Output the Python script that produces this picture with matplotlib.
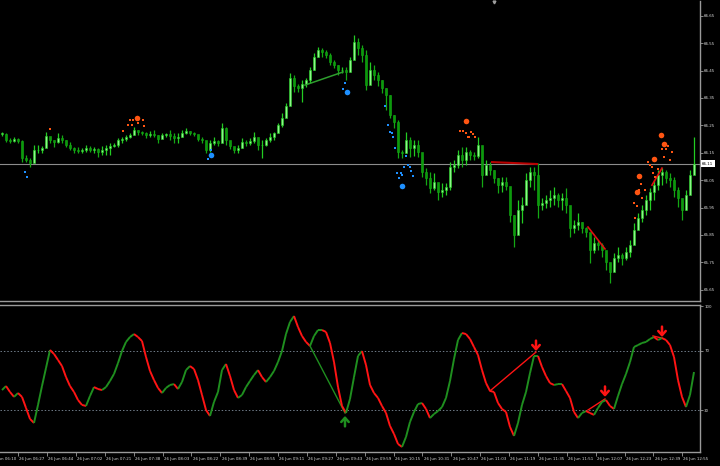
import numpy as np
import matplotlib
matplotlib.use("Agg")
import matplotlib.pyplot as plt
from matplotlib.collections import LineCollection
from matplotlib import transforms

# ---------------- data ----------------
highs = [66.226, 66.222, 66.204, 66.208, 66.204, 66.197, 66.142, 66.131, 66.178, 66.178,
         66.175, 66.226, 66.208, 66.197, 66.222, 66.215, 66.197, 66.189, 66.171, 66.171,
         66.167, 66.178, 66.175, 66.171, 66.167, 66.175, 66.178, 66.186, 66.186, 66.204,
         66.208, 66.215, 66.222, 66.244, 66.233, 66.229, 66.226, 66.229, 66.233, 66.215,
         66.222, 66.222, 66.233, 66.222, 66.222, 66.233, 66.240, 66.229, 66.226, 66.215,
         66.208, 66.186, 66.197, 66.208, 66.197, 66.259, 66.244, 66.189, 66.171, 66.178,
         66.204, 66.197, 66.204, 66.226, 66.204, 66.197, 66.204, 66.222, 66.226, 66.259,
         66.295, 66.332, 66.441, 66.434, 66.401, 66.416, 66.423, 66.463, 66.514, 66.536,
         66.532, 66.525, 66.514, 66.489, 66.470, 66.463, 66.463, 66.499, 66.580, 66.569,
         66.543, 66.525, 66.481, 66.470, 66.445, 66.416, 66.387, 66.361, 66.288, 66.270,
         66.160, 66.226, 66.208, 66.197, 66.197, 66.142, 66.094, 66.080, 66.076, 66.040,
         66.040, 66.040, 66.116, 66.124, 66.160, 66.171, 66.171, 66.160, 66.153, 66.208,
         66.160, 66.124, 66.116, 66.087, 66.058, 66.062, 66.062, 66.014, 65.923, 65.978,
         65.989, 66.076, 66.098, 66.098, 66.113, 65.985, 65.996, 66.014, 66.025, 66.003,
         66.003, 66.022, 65.941, 65.905, 65.930, 65.898, 65.879, 65.839, 65.843, 65.832,
         65.821, 65.784, 65.748, 65.784, 65.806, 65.784, 65.806, 65.832, 65.894, 65.930,
         65.959, 65.996, 66.022, 66.051, 66.087, 66.094, 66.087, 66.076, 66.062, 66.025,
         65.978, 66.014, 66.087, 66.208]

lows = [66.211, 66.189, 66.186, 66.189, 66.186, 66.116, 66.116, 66.098, 66.116, 66.149,
        66.149, 66.178, 66.186, 66.171, 66.186, 66.186, 66.171, 66.160, 66.149, 66.149,
        66.149, 66.153, 66.153, 66.149, 66.135, 66.142, 66.142, 66.142, 66.171, 66.171,
        66.186, 66.193, 66.204, 66.215, 66.215, 66.215, 66.204, 66.208, 66.208, 66.186,
        66.208, 66.208, 66.197, 66.186, 66.186, 66.208, 66.219, 66.215, 66.211, 66.193,
        66.186, 66.149, 66.153, 66.178, 66.175, 66.189, 66.178, 66.164, 66.149, 66.149,
        66.167, 66.175, 66.178, 66.186, 66.160, 66.131, 66.175, 66.189, 66.197, 66.229,
        66.244, 66.284, 66.343, 66.372, 66.372, 66.336, 66.390, 66.405, 66.452, 66.499,
        66.499, 66.496, 66.470, 66.459, 66.434, 66.441, 66.416, 66.445, 66.507, 66.507,
        66.481, 66.379, 66.408, 66.416, 66.394, 66.369, 66.306, 66.277, 66.240, 66.131,
        66.131, 66.149, 66.135, 66.138, 66.135, 66.062, 66.032, 66.003, 66.014, 65.978,
        65.989, 65.996, 66.014, 66.080, 66.094, 66.098, 66.105, 66.124, 66.124, 66.131,
        66.025, 66.076, 66.069, 66.040, 66.003, 66.007, 66.014, 65.898, 65.806, 65.879,
        65.894, 65.978, 66.025, 66.014, 65.912, 65.941, 65.949, 65.952, 65.959, 65.952,
        65.941, 65.930, 65.843, 65.858, 65.868, 65.858, 65.843, 65.748, 65.784, 65.795,
        65.770, 65.722, 65.675, 65.733, 65.751, 65.740, 65.759, 65.770, 65.821, 65.886,
        65.898, 65.923, 65.941, 65.978, 66.014, 66.032, 66.040, 66.025, 65.989, 65.952,
        65.905, 65.941, 66.022, 66.098]

closes = [66.219, 66.197, 66.193, 66.200, 66.193, 66.131, 66.124, 66.113, 66.160, 66.160,
          66.167, 66.211, 66.197, 66.189, 66.204, 66.197, 66.178, 66.167, 66.160, 66.156,
          66.160, 66.167, 66.160, 66.164, 66.153, 66.160, 66.167, 66.175, 66.178, 66.197,
          66.200, 66.208, 66.215, 66.233, 66.226, 66.222, 66.215, 66.219, 66.215, 66.200,
          66.215, 66.219, 66.211, 66.204, 66.208, 66.222, 66.229, 66.222, 66.219, 66.200,
          66.197, 66.160, 66.186, 66.193, 66.186, 66.240, 66.197, 66.175, 66.160, 66.167,
          66.189, 66.186, 66.193, 66.208, 66.178, 66.178, 66.197, 66.208, 66.222, 66.251,
          66.277, 66.321, 66.423, 66.394, 66.387, 66.401, 66.416, 66.452, 66.499, 66.525,
          66.518, 66.507, 66.481, 66.470, 66.452, 66.452, 66.445, 66.489, 66.554, 66.532,
          66.507, 66.397, 66.452, 66.434, 66.416, 66.387, 66.361, 66.288, 66.262, 66.153,
          66.149, 66.197, 66.167, 66.178, 66.153, 66.080, 66.058, 66.022, 66.043, 66.007,
          66.014, 66.025, 66.098, 66.105, 66.142, 66.124, 66.153, 66.142, 66.138, 66.178,
          66.069, 66.105, 66.087, 66.058, 66.032, 66.043, 66.029, 65.923, 65.850, 65.941,
          65.959, 66.051, 66.080, 66.069, 65.959, 65.967, 65.978, 65.985, 65.996, 65.978,
          65.985, 65.959, 65.876, 65.886, 65.898, 65.876, 65.861, 65.795, 65.821, 65.813,
          65.795, 65.751, 65.715, 65.766, 65.777, 65.766, 65.788, 65.813, 65.868, 65.912,
          65.941, 65.978, 66.007, 66.032, 66.069, 66.080, 66.058, 66.051, 66.014, 65.985,
          65.941, 65.996, 66.069, 66.110]

osc = [43.6, 46.3, 42.3, 39.0, 41.6, 39.0, 31.6, 24.2, 21.5, 33.6,
       46.3, 58.4, 70.5, 67.8, 63.8, 59.7, 52.3, 46.3, 42.3, 36.9,
       33.6, 32.9, 39.6, 45.6, 44.3, 43.6, 45.6, 49.7, 54.4, 61.7,
       69.8, 75.9, 79.2, 81.2, 79.2, 76.5, 65.8, 56.4, 50.3, 45.0,
       41.6, 45.0, 47.0, 47.6, 44.3, 49.0, 57.0, 59.7, 57.7, 50.3,
       40.3, 30.2, 26.2, 35.6, 42.3, 57.0, 61.1, 53.0, 43.6, 38.3,
       40.3, 45.6, 49.7, 53.7, 57.0, 52.3, 49.0, 52.3, 56.4, 62.4,
       69.8, 81.2, 89.3, 93.3, 85.9, 79.9, 75.9, 73.2, 79.9, 83.9,
       83.9, 82.6, 75.2, 62.4, 45.6, 32.9, 28.2, 37.6, 52.3, 66.5,
       69.8, 60.4, 47.0, 41.6, 38.3, 32.9, 28.2, 19.5, 14.1, 7.4,
       5.4, 12.1, 22.2, 28.9, 34.2, 34.9, 30.9, 24.8, 27.5, 29.5,
       32.2, 38.3, 49.7, 64.4, 77.2, 81.9, 81.2, 77.9, 72.5, 67.1,
       57.0, 48.3, 43.0, 42.3, 34.9, 30.9, 28.9, 18.8, 12.8, 21.5,
       33.6, 42.3, 55.0, 66.5, 66.5, 59.1, 53.0, 48.3, 47.0, 47.6,
       47.6, 43.0, 38.3, 28.9, 24.8, 28.2, 29.5, 28.2, 26.9, 31.6,
       35.6, 36.9, 32.9, 30.9, 39.6, 47.6, 54.4, 62.4, 72.5, 73.8,
       75.2, 75.9, 77.9, 79.2, 77.2, 78.5, 77.2, 73.8, 65.8, 50.3,
       39.0, 32.2, 40.3, 55.7]

time_labels = ["26 Jun 06:10", "26 Jun 06:27", "26 Jun 06:44", "26 Jun 07:02", "26 Jun 07:21",
               "26 Jun 07:38", "26 Jun 08:03", "26 Jun 08:22", "26 Jun 08:39", "26 Jun 08:55",
               "26 Jun 09:11", "26 Jun 09:27", "26 Jun 09:43", "26 Jun 09:59", "26 Jun 10:15",
               "26 Jun 10:31", "26 Jun 10:47", "26 Jun 11:03", "26 Jun 11:19", "26 Jun 11:35",
               "26 Jun 11:51", "26 Jun 12:07", "26 Jun 12:23", "26 Jun 12:39", "26 Jun 12:55"]

price_ticks = [65.65, 65.75, 65.85, 65.95, 66.05, 66.15, 66.25, 66.35, 66.45, 66.55, 66.65]
osc_ticks = [30, 70, 100]
osc_levels = [30, 70]
bid = 66.11

# signal dots: bar position, price, big?
sell_x = [12, 30.25, 31.5, 32.5, 32, 32.75, 33.75, 34, 35.25, 35.5,
          116, 114.5, 115.25, 116, 117.25, 117.75, 116.5, 116.75, 118.25,
          164.75, 165.5, 166.5, 165, 166, 167.5, 165.5, 167, 161.5, 162, 163, 162.5,
          164, 162.75, 163.25, 159.25, 159.75, 159.25, 160.75, 158.75, 160, 158, 158.75, 158.25]
sell_p = [66.237, 66.229, 66.251, 66.251, 66.269, 66.269, 66.277, 66.258, 66.269, 66.248,
          66.266, 66.229, 66.229, 66.222, 66.226, 66.218, 66.207, 66.207, 66.207,
          66.215, 66.182, 66.175, 66.164, 66.164, 66.153, 66.134, 66.123, 66.116, 66.105, 66.127, 66.098,
          66.091, 66.076, 66.061, 66.065, 66.036, 66.014, 66.014, 66.007, 65.985, 65.966, 65.955, 65.912]
sell_big = [0, 0, 0, 0, 0, 0, 1, 0, 0, 0,
            1, 0, 0, 0, 0, 0, 0, 0, 0,
            1, 1, 0, 0, 0, 0, 0, 0, 0, 0, 1, 0,
            0, 0, 0, 1, 0, 0, 0, 1, 0, 0, 0, 0]

buy_x = [5.75, 6.25, 52.25, 52.25, 51.5, 85.75, 85.25, 86.25,
         95.75, 96.5, 97, 97.5, 97.75, 98.25, 101, 101.5, 102, 100.5, 102.25,
         98.75, 99.75, 100, 99.25, 102.75, 100]
buy_p = [66.080, 66.061, 66.160, 66.142, 66.127, 66.404, 66.382, 66.372,
         66.320, 66.251, 66.226, 66.222, 66.207, 66.167, 66.138, 66.105, 66.098, 66.098, 66.083,
         66.076, 66.076, 66.069, 66.058, 66.065, 66.029]
buy_big = [0, 0, 0, 1, 0, 0, 0, 1,
           0, 0, 0, 0, 0, 0, 0, 0, 0, 0, 0,
           0, 0, 0, 0, 0, 1]

# trend lines (bar position pairs, value pairs)
price_green_x = [75.75, 85.25]
price_green_y = [66.397, 66.445]
price_red_x = [[122.5, 133.75], [146.5, 150.75], [162.5, 165.0]]
price_red_y = [[66.116, 66.109], [65.879, 65.799], [66.032, 66.094]]

osc_green_x = [77, 85.75]
osc_green_y = [73.2, 28.2]
osc_red_x = [[122, 133.5], [146.5, 150.75], [162.75, 165.0]]
osc_red_y = [[43.0, 69.1], [30.2, 37.6], [79.9, 78.5]]
arrow_up_x = [85.75]
arrow_up_y = [26.2]
arrow_down_x = [133.5, 150.75, 165.0]
arrow_down_y = [69.8, 39.0, 79.2]

# ---------------- figure ----------------
W, H = 720, 466
fig = plt.figure(figsize=(W / 100, H / 100), dpi=100, facecolor="black")
ax1 = fig.add_axes([0, (H - 301) / H, 700 / W, 300 / H], facecolor="black")
ax2 = fig.add_axes([0, (H - 452) / H, 700 / W, 147 / H], facecolor="black")

n = len(closes)
x = np.arange(n)
hi = np.array(highs)
lo = np.array(lows)
cl = np.array(closes)
op = np.r_[cl[0], cl[:-1]]
up = cl >= op

grid_col = "#9a9a9a"
txt_col = "#d8d8d8"

bull_fill, bull_edge = "#8ef58a", "#22cc22"
bear_fill, bear_edge = "#0b9a0b", "#14a814"

wick_cols = [bull_edge if u else bear_edge for u in up]
ax1.vlines(x, lo, hi, colors=wick_cols, lw=0.9, zorder=2)
ax1.bar(x[up], np.maximum(cl[up] - op[up], 0.0015), bottom=op[up], width=0.62,
        color=bull_fill, edgecolor=bull_edge, linewidth=0.4, zorder=3)
ax1.bar(x[~up], np.maximum(op[~up] - cl[~up], 0.0015), bottom=cl[~up], width=0.62,
        color=bear_fill, edgecolor=bear_edge, linewidth=0.4, zorder=3)

# bid line
ax1.axhline(bid, color="#8c8c8c", lw=0.8, zorder=1)

# trend lines on price
ax1.plot(price_green_x, price_green_y, color="#2e9e2e", lw=1.1, zorder=4)
for k, (xs, ys) in enumerate(zip(price_red_x, price_red_y)):
    ax1.plot(xs, ys, color="#b80000" if k == 0 else "#e01010", lw=1.5 if k == 0 else 1.2, zorder=4)

# signal dots
sx, sp, sb = np.array(sell_x), np.array(sell_p), np.array(sell_big, bool)
bx, bp, bb = np.array(buy_x), np.array(buy_p), np.array(buy_big, bool)
ax1.scatter(sx[~sb], sp[~sb], s=3.5, color="#ff5512", marker="s", lw=0, zorder=5)
ax1.scatter(sx[sb], sp[sb], s=16, color="#ff5512", lw=0, zorder=5)
ax1.scatter(bx[~bb], bp[~bb], s=3.5, color="#1e90ff", marker="s", lw=0, zorder=5)
ax1.scatter(bx[bb], bp[bb], s=16, color="#1e90ff", lw=0, zorder=5)

ax1.set_xlim(-0.5, n + 0.5)
ax1.set_ylim(65.609, 66.704)
ax1.yaxis.tick_right()
ax1.set_yticks(price_ticks)
ax1.set_yticklabels([f"{v:.2f}" for v in price_ticks])
ax1.tick_params(axis="y", length=2, width=0.6, color=grid_col, labelsize=2.9,
                labelcolor=txt_col, pad=1)
ax1.tick_params(axis="x", bottom=False, labelbottom=False)
for s in ["left", "top"]:
    ax1.spines[s].set_visible(False)
for s in ["right", "bottom"]:
    ax1.spines[s].set_color(grid_col)
    ax1.spines[s].set_linewidth(1.0)

# bid label
tb = transforms.blended_transform_factory(ax1.transAxes, ax1.transData)
ax1.text(1.003, bid, f"{bid:.2f}", transform=tb, fontsize=2.9, color="black",
         ha="left", va="center", clip_on=False,
         bbox=dict(boxstyle="square,pad=0.35", fc="white", ec="white", lw=0))

# chart shift marker at top
ax1.plot([0.706], [0.997], marker="v", color="#a0a0a0", markersize=2,
         transform=ax1.transAxes, clip_on=False)

# ---------------- oscillator ----------------
ov = np.array(osc)
pts = np.column_stack([x, ov])
segs = np.stack([pts[:-1], pts[1:]], axis=1)
cols = ["#1f8f1f" if ov[i + 1] >= ov[i] else "#ff1414" for i in range(n - 1)]
ax2.add_collection(LineCollection(segs, colors=cols, linewidths=1.4, zorder=3))

for lv in osc_levels:
    ax2.axhline(lv, color="#6f7b88", lw=0.7, ls=(0, (1.5, 2.0)), zorder=1)

ax2.plot(osc_green_x, osc_green_y, color="#1f8f1f", lw=1.0, zorder=2)
for xs, ys in zip(osc_red_x, osc_red_y):
    ax2.plot(xs, ys, color="#ff1414", lw=1.0, zorder=2)

for ax_, ay in zip(arrow_up_x, arrow_up_y):
    ax2.annotate("", xy=(ax_, ay), xytext=(ax_, ay - 7),
                 arrowprops=dict(arrowstyle="->,head_length=0.5,head_width=0.45",
                                 color="#1f8f1f", lw=1.8, mutation_scale=6,
                                 shrinkA=0, shrinkB=0))
for ax_, ay in zip(arrow_down_x, arrow_down_y):
    ax2.annotate("", xy=(ax_, ay), xytext=(ax_, ay + 7),
                 arrowprops=dict(arrowstyle="->,head_length=0.5,head_width=0.45",
                                 color="#ff1414", lw=1.8, mutation_scale=6,
                                 shrinkA=0, shrinkB=0))

ax2.set_xlim(-0.5, n + 0.5)
ax2.set_ylim(2.0, 100.7)
ax2.yaxis.tick_right()
ax2.set_yticks(osc_ticks)
ax2.set_yticklabels([str(v) for v in osc_ticks])
ax2.tick_params(axis="y", length=2, width=0.6, color=grid_col, labelsize=2.9,
                labelcolor=txt_col, pad=1)
ax2.spines["left"].set_visible(False)
for s in ["right", "bottom", "top"]:
    ax2.spines[s].set_color(grid_col)
    ax2.spines[s].set_linewidth(1.0)

# time axis labels (every 16 one-minute bars = 7.2175 drawn bars)
step = 7.2175
first = -3.15
tick_pos = [first + k * step for k in range(len(time_labels))]
ax2.set_xticks([p for p in tick_pos if p >= -0.5])
ax2.tick_params(axis="x", length=3, width=0.6, color=grid_col, labelbottom=False)
tx = ax2.get_xaxis_transform()
for p, lab in zip(tick_pos, time_labels):
    ax2.text(p + 0.3, -0.045, lab, transform=tx, fontsize=2.85, color=txt_col,
             ha="left", va="center", clip_on=False)

fig.savefig("out.png", dpi=100, facecolor="black")
